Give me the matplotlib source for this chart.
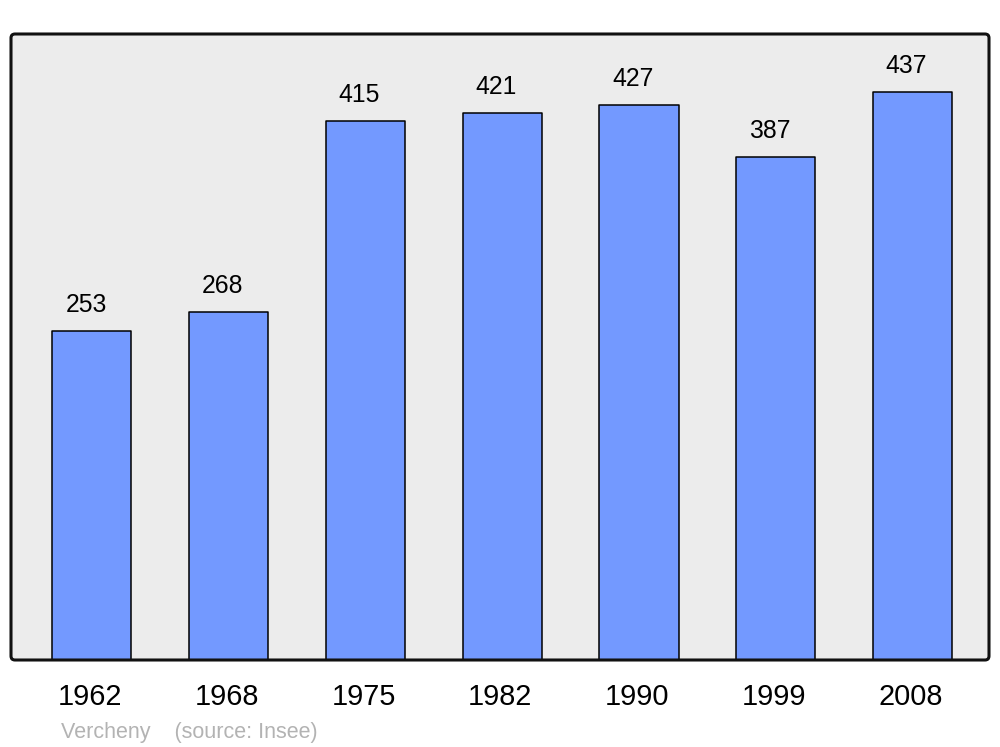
import matplotlib
matplotlib.use("Agg")
import matplotlib.pyplot as plt
from matplotlib.patches import FancyBboxPatch
from matplotlib.transforms import IdentityTransform

years = ["1962", "1968", "1975", "1982", "1990", "1999", "2008"]
population = [253, 268, 415, 421, 427, 387, 437]
source_text = "Vercheny    (source: Insee)"

plt.rcParams['font.family'] = ['Liberation Sans', 'DejaVu Sans']

W, H = 1000, 747
fig = plt.figure(figsize=(W / 100, H / 100), dpi=100)
ax_l, ax_r, ax_t, ax_b = 11, 989, 34, 660
ax = fig.add_axes([ax_l / W, 1 - ax_b / H, (ax_r - ax_l) / W, (ax_b - ax_t) / H])
ax.patch.set_visible(False)
for s in ax.spines.values():
    s.set_visible(False)

x = list(range(len(years)))
ax.bar(x, population, width=0.578, color="#7399ff", edgecolor="black",
       linewidth=1.1, joinstyle="round", zorder=2)
ax.set_xlim(-0.592, len(years) - 1 + 0.559)
ax.set_ylim(0, 481.6)
ax.set_xticks([])
ax.set_yticks([])

for xi, v in zip(x, population):
    ax.annotate(str(v), xy=(xi, v), xytext=(-4.3, 13.7), textcoords="offset points",
                ha="center", va="baseline", fontsize=17.8, color="black")

for xi, lab in zip(x, years):
    ax.annotate(lab, xy=(xi, 0), xycoords=("data", "axes fraction"),
                xytext=(-1.4, -32.4), textcoords="offset points",
                ha="center", va="baseline", fontsize=20.8, color="black",
                annotation_clip=False)

# frame with rounded corners (display pixel coordinates)
fill = FancyBboxPatch((ax_l, H - ax_b), ax_r - ax_l, ax_b - ax_t,
                      boxstyle="round,pad=0,rounding_size=4",
                      facecolor="#ececec", edgecolor="none",
                      transform=IdentityTransform(), zorder=-1)
edge = FancyBboxPatch((ax_l, H - ax_b), ax_r - ax_l, ax_b - ax_t,
                      boxstyle="round,pad=0,rounding_size=4",
                      facecolor="none", edgecolor="#111111", linewidth=2.2,
                      transform=IdentityTransform(), zorder=5)
fig.patches.extend([fill, edge])

fig.text(61 / W, 1 - 738 / H, source_text, ha="left", va="baseline",
         fontsize=15.5, color="#b3b3b3")

fig.savefig("out.png", dpi=100, facecolor="white")
